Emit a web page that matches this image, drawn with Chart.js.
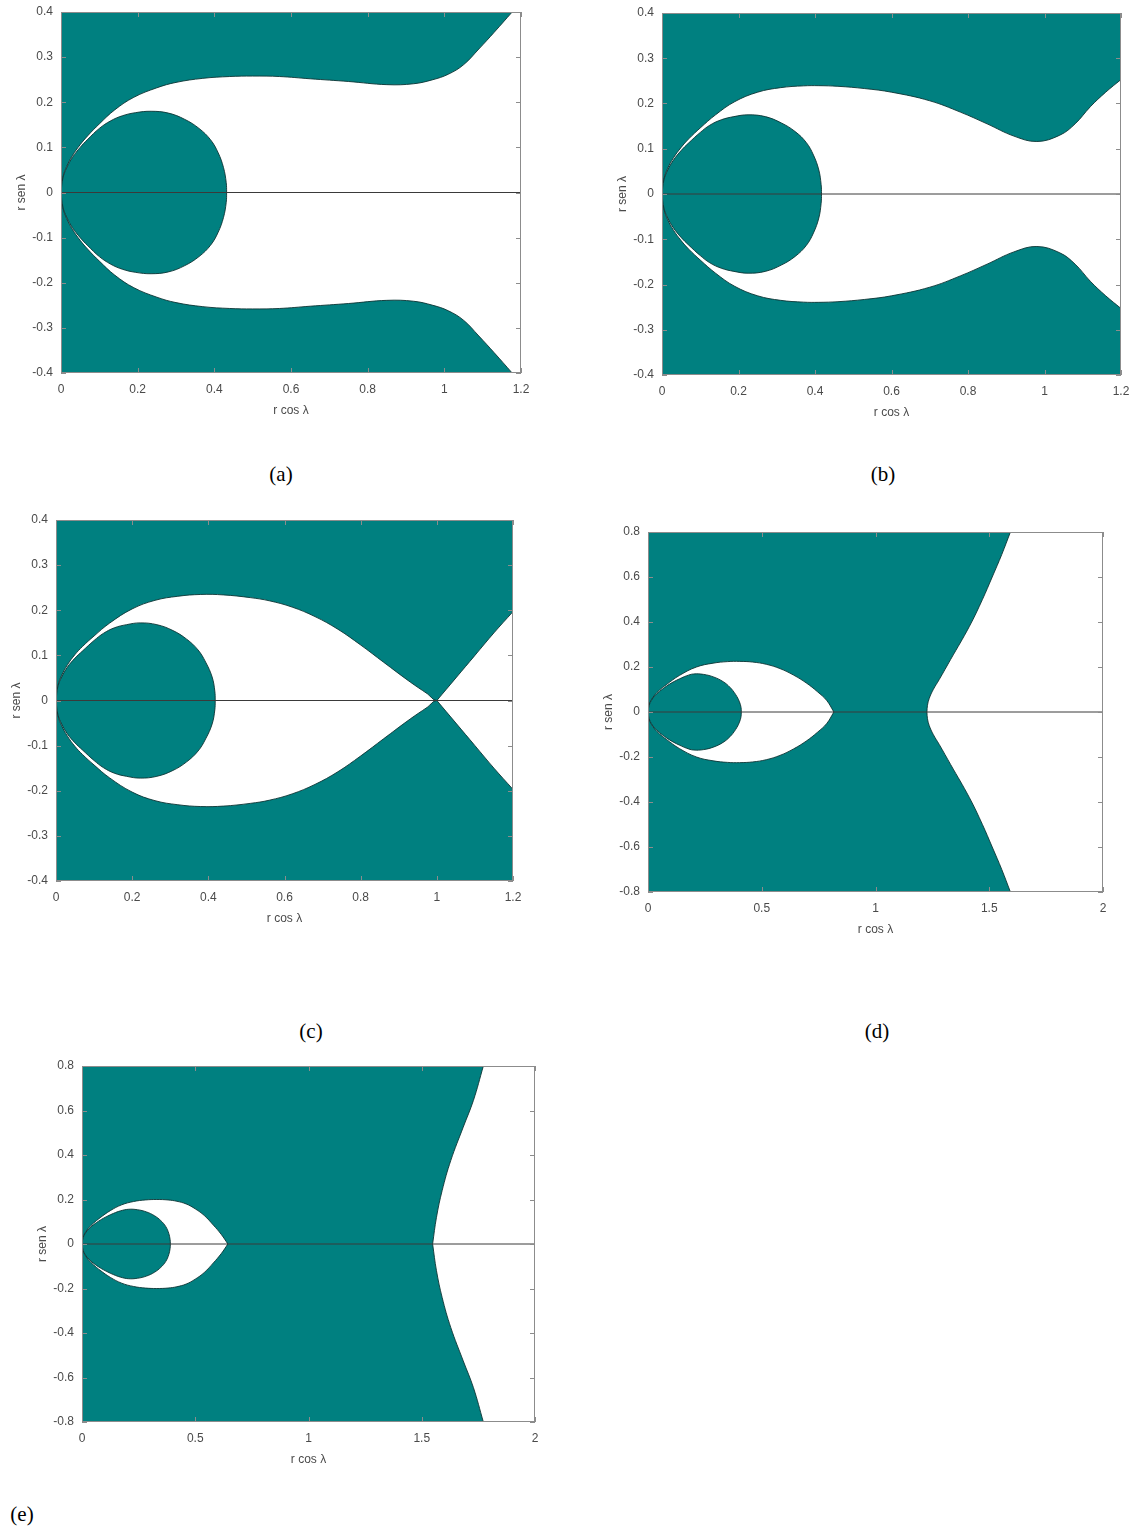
<!DOCTYPE html>
<html>
<head>
<meta charset="utf-8">
<script src="https://cdn.jsdelivr.net/npm/chart.js@4.4.1/dist/chart.umd.min.js"></script>
<style>
  body { margin: 0; background: #fff; width: 1135px; height: 1536px; position: relative; overflow: hidden; }
  canvas { position: absolute; }
  .cap { position: absolute; font-family: 'Liberation Serif', 'Times New Roman', serif; font-size: 21px; color: #000; transform: translate(-50%, -50%); white-space: nowrap; }
</style>
</head>
<body>
<canvas id="plot-a"></canvas>
<canvas id="plot-b"></canvas>
<canvas id="plot-c"></canvas>
<canvas id="plot-d"></canvas>
<canvas id="plot-e"></canvas>
<div class="cap" style="left:281px;top:474px">(a)</div>
<div class="cap" style="left:883px;top:474px">(b)</div>
<div class="cap" style="left:311px;top:1031px">(c)</div>
<div class="cap" style="left:877px;top:1031px">(d)</div>
<div class="cap" style="left:22px;top:1514px">(e)</div>
<script>
// tick values
const xTicksShort = [0, 0.2, 0.4, 0.6, 0.8, 1, 1.2];
const xTicksLong = [0, 0.5, 1, 1.5, 2];
const yTicksSmall = [-0.4, -0.3, -0.2, -0.1, 0, 0.1, 0.2, 0.3, 0.4];
const yTicksLarge = [-0.8, -0.6, -0.4, -0.2, 0, 0.2, 0.4, 0.6, 0.8];

// (a) upper edge of the white region, teal above it (mirrored below the axis)
const aOuterX = [0, 0.005, 0.015, 0.03, 0.05, 0.07, 0.1, 0.14, 0.19, 0.25, 0.3, 0.37, 0.44, 0.5, 0.57, 0.65, 0.75, 0.85, 0.92, 0.97, 1.01, 1.05, 1.09, 1.13, 1.177];
const aOuterY = [0, 0.034, 0.058, 0.082, 0.106, 0.126, 0.152, 0.183, 0.211, 0.232, 0.244, 0.253, 0.257, 0.258, 0.257, 0.252, 0.246, 0.239, 0.241, 0.25, 0.262, 0.283, 0.318, 0.355, 0.4];
// (a) upper half of the inner teal region
const aInnerX = [0, 0.005, 0.015, 0.03, 0.05, 0.07, 0.1, 0.13, 0.16, 0.195, 0.235, 0.28, 0.323, 0.36, 0.39, 0.41, 0.424, 0.431, 0.432];
const aInnerY = [0, 0.032, 0.055, 0.078, 0.1, 0.118, 0.142, 0.159, 0.17, 0.177, 0.18, 0.176, 0.162, 0.142, 0.117, 0.088, 0.055, 0.022, 0];

const bOuterX = [0, 0.005, 0.015, 0.03, 0.05, 0.07, 0.1, 0.14, 0.19, 0.25, 0.31, 0.37, 0.41, 0.46, 0.53, 0.6, 0.7, 0.78, 0.85, 0.92, 0.98, 1.04, 1.08, 1.12, 1.16, 1.2];
const bOuterY = [0, 0.033, 0.057, 0.08, 0.103, 0.122, 0.146, 0.175, 0.204, 0.225, 0.235, 0.239, 0.2394, 0.238, 0.233, 0.225, 0.206, 0.181, 0.155, 0.128, 0.116, 0.13, 0.155, 0.193, 0.225, 0.253];
const bInnerX = [0, 0.005, 0.015, 0.03, 0.05, 0.07, 0.1, 0.125, 0.155, 0.188, 0.225, 0.27, 0.312, 0.348, 0.377, 0.396, 0.41, 0.416, 0.417];
const bInnerY = [0, 0.031, 0.053, 0.075, 0.096, 0.113, 0.136, 0.152, 0.164, 0.171, 0.175, 0.171, 0.157, 0.138, 0.114, 0.086, 0.053, 0.021, 0];

const cOuterX = [0, 0.005, 0.015, 0.03, 0.05, 0.07, 0.1, 0.14, 0.2, 0.26, 0.32, 0.38, 0.44, 0.51, 0.56, 0.62, 0.68, 0.74, 0.8, 0.86, 0.93, 0.975, 1.0, 1.2];
const cOuterY = [0, 0.033, 0.056, 0.079, 0.102, 0.12, 0.143, 0.171, 0.203, 0.222, 0.231, 0.235, 0.234, 0.228, 0.221, 0.207, 0.186, 0.158, 0.123, 0.085, 0.041, 0.015, 0, 0];
// (c) white wedge right of the crossing point
const cWedgeX = [1.0, 1.05, 1.1, 1.15, 1.2];
const cWedgeY = [0, 0.05, 0.1, 0.15, 0.197];
const cInnerX = [0, 0.005, 0.015, 0.03, 0.05, 0.07, 0.1, 0.125, 0.153, 0.185, 0.221, 0.265, 0.307, 0.343, 0.373, 0.393, 0.41, 0.417, 0.418];
const cInnerY = [0, 0.031, 0.052, 0.074, 0.094, 0.11, 0.133, 0.149, 0.161, 0.168, 0.172, 0.168, 0.155, 0.136, 0.112, 0.085, 0.052, 0.021, 0];

// (d) white lobe, white region right of the curve, inner teal region
const dLobeX = [0, 0.005, 0.015, 0.03, 0.05, 0.08, 0.139, 0.213, 0.286, 0.35, 0.403, 0.46, 0.52, 0.58, 0.64, 0.696, 0.745, 0.785, 0.817];
const dLobeY = [0, 0.032, 0.055, 0.076, 0.097, 0.121, 0.163, 0.2, 0.217, 0.224, 0.225, 0.222, 0.212, 0.193, 0.164, 0.129, 0.09, 0.052, 0];
const dRightX = [1.226, 1.2285, 1.236, 1.254, 1.28, 1.33, 1.413, 1.47, 1.513, 1.555, 1.593];
const dRightY = [0, 0.03, 0.06, 0.1, 0.144, 0.233, 0.381, 0.5, 0.6, 0.7, 0.8];
const dInnerX = [0, 0.005, 0.015, 0.03, 0.05, 0.08, 0.11, 0.14, 0.17, 0.2, 0.245, 0.29, 0.33, 0.36, 0.385, 0.402, 0.409, 0.41];
const dInnerY = [0, 0.03, 0.052, 0.072, 0.091, 0.114, 0.133, 0.148, 0.161, 0.169, 0.167, 0.155, 0.135, 0.11, 0.078, 0.045, 0.02, 0];

const eLobeX = [0, 0.005, 0.015, 0.03, 0.05, 0.08, 0.125, 0.175, 0.228, 0.28, 0.33, 0.38, 0.419, 0.46, 0.5, 0.54, 0.58, 0.615, 0.644];
const eLobeY = [0, 0.03, 0.052, 0.073, 0.093, 0.118, 0.15, 0.176, 0.191, 0.198, 0.2, 0.198, 0.192, 0.18, 0.158, 0.128, 0.085, 0.043, 0];
const eRightX = [1.548, 1.565, 1.59, 1.628, 1.683, 1.728, 1.772];
const eRightY = [0, 0.12, 0.24, 0.375, 0.525, 0.645, 0.8];
const eInnerX = [0, 0.005, 0.015, 0.03, 0.05, 0.08, 0.11, 0.14, 0.17, 0.205, 0.245, 0.285, 0.32, 0.348, 0.37, 0.383, 0.389, 0.39];
const eInnerY = [0, 0.028, 0.049, 0.068, 0.086, 0.107, 0.124, 0.138, 0.149, 0.156, 0.154, 0.144, 0.127, 0.105, 0.078, 0.048, 0.02, 0];

const TEAL = 'rgb(0,128,128)';
const WHITE = '#ffffff';
const EDGE = 'rgba(12,52,52,0.9)';
const AXIS_GRAY = '#8c8c8c';
const LABEL_GRAY = '#4a4a4a';
const tickFont = { family: "'Liberation Sans', Arial, sans-serif", size: 12 };

// plot area box in page pixels: [left, top, right, bottom]
const plots = [
    {
        id: 'plot-a', box: [61, 12, 521, 373], xMax: 1.2, yMax: 0.4, xTicks: xTicksShort, yTicks: yTicksSmall,
        layers: [
            { kind: 'above', xs: aOuterX, ys: aOuterY },
            { kind: 'loop', xs: aInnerX, ys: aInnerY, color: TEAL }
        ]
    },
    {
        id: 'plot-b', box: [662, 13, 1121, 375], xMax: 1.2, yMax: 0.4, xTicks: xTicksShort, yTicks: yTicksSmall,
        layers: [
            { kind: 'above', xs: bOuterX, ys: bOuterY },
            { kind: 'loop', xs: bInnerX, ys: bInnerY, color: TEAL }
        ]
    },
    {
        id: 'plot-c', box: [56, 520, 513, 881], xMax: 1.2, yMax: 0.4, xTicks: xTicksShort, yTicks: yTicksSmall,
        layers: [
            { kind: 'above', xs: cOuterX, ys: cOuterY },
            { kind: 'right', xs: cWedgeX, ys: cWedgeY },
            { kind: 'loop', xs: cInnerX, ys: cInnerY, color: TEAL }
        ]
    },
    {
        id: 'plot-d', box: [648, 532, 1103, 892], xMax: 2, yMax: 0.8, xTicks: xTicksLong, yTicks: yTicksLarge,
        layers: [
            { kind: 'background' },
            { kind: 'right', xs: dRightX, ys: dRightY },
            { kind: 'halves', xs: dLobeX, ys: dLobeY, color: WHITE },
            { kind: 'loop', xs: dInnerX, ys: dInnerY, color: TEAL }
        ]
    },
    {
        id: 'plot-e', box: [82, 1066, 535, 1422], xMax: 2, yMax: 0.8, xTicks: xTicksLong, yTicks: yTicksLarge,
        layers: [
            { kind: 'background' },
            { kind: 'right', xs: eRightX, ys: eRightY },
            { kind: 'halves', xs: eLobeX, ys: eLobeY, color: WHITE },
            { kind: 'loop', xs: eInnerX, ys: eInnerY, color: TEAL }
        ]
    }
];

const Y_AXIS_W = 52, X_AXIS_H = 50, PAD_TOP = 12, PAD_RIGHT = 20;

// MATLAB-like box with inward ticks on all four sides
const boxPlugin = {
    id: 'matlabBox',
    afterDatasetsDraw(chart) {
        const { ctx, chartArea: a, scales: { x, y } } = chart;
        ctx.save();
        ctx.strokeStyle = AXIS_GRAY;
        ctx.lineWidth = 1;
        ctx.beginPath();
        for (const t of x.ticks) {
            const px = Math.round(x.getPixelForValue(t.value)) + 0.5;
            ctx.moveTo(px, a.bottom); ctx.lineTo(px, a.bottom - 5);
            ctx.moveTo(px, a.top); ctx.lineTo(px, a.top + 5);
        }
        for (const t of y.ticks) {
            const py = Math.round(y.getPixelForValue(t.value)) + 0.5;
            ctx.moveTo(a.left, py); ctx.lineTo(a.left + 5, py);
            ctx.moveTo(a.right, py); ctx.lineTo(a.right - 5, py);
        }
        ctx.stroke();
        ctx.strokeRect(a.left + 0.5, a.top + 0.5, a.width - 1, a.height - 1);
        ctx.restore();
    }
};

function fmt(v) {
    return String(Math.round(v * 10) / 10);
}

function toPoints(xs, ys, sign) {
    return xs.map((x, i) => ({ x, y: sign * ys[i] }));
}

// upper half forward, lower half back: a closed outline
function loopPoints(xs, ys) {
    const pts = toPoints(xs, ys, 1);
    for (let i = xs.length - 2; i >= 0; i--) {
        pts.push({ x: xs[i], y: -ys[i] });
    }
    return pts;
}

function buildDatasets(p) {
    const list = [];

    for (const layer of p.layers) {
        switch (layer.kind) {
            case 'background':
                list.push({ data: [{ x: 0, y: p.yMax }, { x: p.xMax, y: p.yMax }], fill: 'start', backgroundColor: TEAL, borderWidth: 0, tension: 0 });
                break;
            case 'above':
                list.push({ data: toPoints(layer.xs, layer.ys, 1), fill: 'end', backgroundColor: TEAL, borderColor: EDGE, tension: 0.4 });
                list.push({ data: toPoints(layer.xs, layer.ys, -1), fill: 'start', backgroundColor: TEAL, borderColor: EDGE, tension: 0.4 });
                break;
            case 'right':
                // x as a function of y, white filled towards the right edge
                for (const sign of [1, -1]) {
                    list.push({ data: toPoints(layer.xs, layer.ys, sign), indexAxis: 'y', fill: { value: p.xMax }, backgroundColor: WHITE, borderColor: EDGE, tension: 0.4 });
                }
                break;
            case 'halves':
                // pointed tip: each half filled to the axis
                for (const sign of [1, -1]) {
                    list.push({ data: toPoints(layer.xs, layer.ys, sign), fill: { value: 0 }, backgroundColor: layer.color, borderColor: EDGE, tension: 0.4 });
                }
                break;
            case 'loop':
                list.push({ data: loopPoints(layer.xs, layer.ys), fill: 'shape', backgroundColor: layer.color, borderColor: EDGE, tension: 0.4 });
                break;
            default:
                throw new Error(`Invalid layer: ${layer.kind}`);
        }
    }

    // the r sen = 0 line across the plot
    list.push({ data: [{ x: 0, y: 0 }, { x: p.xMax, y: 0 }], borderColor: '#3a3a3a', fill: false, tension: 0 });

    // first layer at the bottom
    const n = list.length;
    list.forEach((d, i) => { d.order = n - i; });
    return list;
}

function initPlot(p) {
    const [L, T, R, B] = p.box;
    const canvas = document.getElementById(p.id);
    canvas.width = (R - L) + Y_AXIS_W + PAD_RIGHT;
    canvas.height = (B - T) + PAD_TOP + X_AXIS_H;
    canvas.style.left = (L - Y_AXIS_W) + 'px';
    canvas.style.top = (T - PAD_TOP) + 'px';

    return new Chart(canvas, {
        type: 'line',
        data: { datasets: buildDatasets(p) },
        options: {
            responsive: false,
            animation: false,
            layout: { padding: { left: 0, top: PAD_TOP, right: PAD_RIGHT, bottom: 0 } },
            plugins: { legend: { display: false }, tooltip: { enabled: false } },
            elements: {
                point: { radius: 0 },
                line: { borderWidth: 1 }
            },
            scales: {
                x: {
                    type: 'linear',
                    min: 0,
                    max: p.xMax,
                    afterBuildTicks: s => { s.ticks = p.xTicks.map(v => ({ value: v })); },
                    afterFit: s => { s.height = X_AXIS_H; s.paddingLeft = 0; s.paddingRight = 0; },
                    grid: { display: false, drawTicks: false },
                    border: { display: false },
                    ticks: { padding: 9, color: LABEL_GRAY, font: tickFont, callback: fmt, maxRotation: 0, autoSkip: false },
                    title: { display: true, text: 'r cos λ', color: LABEL_GRAY, font: tickFont, padding: { top: 0, bottom: 5 } }
                },
                y: {
                    type: 'linear',
                    min: -p.yMax,
                    max: p.yMax,
                    afterBuildTicks: s => { s.ticks = p.yTicks.map(v => ({ value: v })); },
                    afterFit: s => { s.width = Y_AXIS_W; s.paddingTop = 0; s.paddingBottom = 0; },
                    grid: { display: false, drawTicks: false },
                    border: { display: false },
                    ticks: { padding: 8, color: LABEL_GRAY, font: tickFont, callback: fmt, autoSkip: false },
                    title: { display: true, text: 'r sen λ', color: LABEL_GRAY, font: tickFont, padding: { top: 5, bottom: 0 } }
                }
            }
        },
        plugins: [boxPlugin]
    });
}

plots.forEach(initPlot);
</script>
</body>
</html>
